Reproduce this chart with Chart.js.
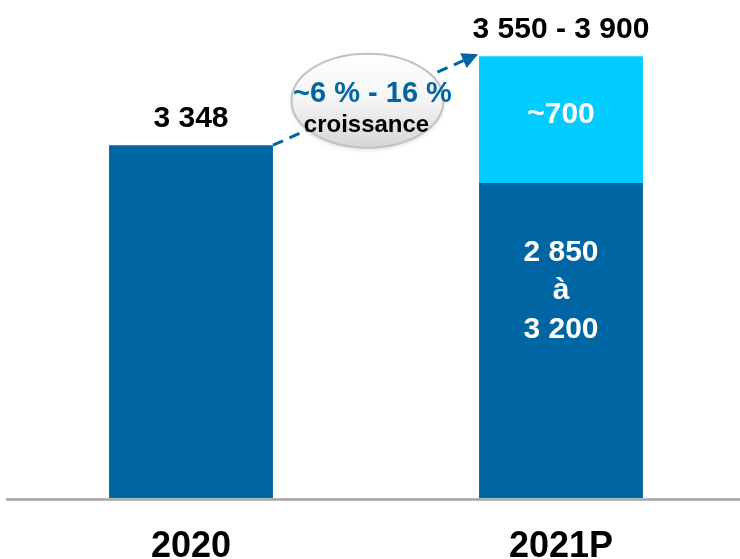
<!DOCTYPE html>
<html lang="fr">
<head>
<meta charset="UTF-8">
<meta name="viewport" content="width=device-width, initial-scale=1.0">
<title>Croissance 2020 - 2021P</title>
<script src="https://cdn.jsdelivr.net/npm/chart.js"></script>
<style>
  html, body { margin: 0; padding: 0; background: #fff; }
  #wrap { width: 740px; height: 559px; }
</style>
</head>
<body>
<div id="wrap"><canvas id="chart"></canvas></div>
<script>
// données
const categories = ['2020', '2021P'];
const baseValues = [3348, 3140];
const upperValues = [null, 700];
const totalLabels = ['3 348', '3 550 - 3 900'];
const upperLabels = ['', '~700'];
const baseLabels = [[], ['2 850', 'à', '3 200']];
const growthLabel = ['~6 % - 16 %', 'croissance'];

const DARK = '#0065a3';
const LIGHT = '#00ccff';
const FONT = '"Liberation Sans", Arial, sans-serif';

// étiquettes, ligne de base, flèche et bulle de croissance
const annotations = {
  id: 'annotations',
  afterDatasetsDraw(chart) {
    const ctx = chart.ctx;
    const area = chart.chartArea;
    const y = chart.scales.y;
    const base = chart.getDatasetMeta(0).data;
    const upper = chart.getDatasetMeta(1).data;
    const topOf = i => y.getPixelForValue(baseValues[i] + (upperValues[i] || 0));

    ctx.save();

    // ligne de base
    ctx.strokeStyle = '#a3a3a3';
    ctx.lineWidth = 2.5;
    ctx.beginPath();
    ctx.moveTo(6, area.bottom + 1.5);
    ctx.lineTo(chart.width, area.bottom + 1.5);
    ctx.stroke();

    // valeurs au-dessus des barres
    ctx.fillStyle = '#000';
    ctx.textAlign = 'center';
    ctx.textBaseline = 'alphabetic';
    ctx.font = 'bold 30px ' + FONT;
    base.forEach((bar, i) => {
      ctx.fillText(totalLabels[i], bar.x, topOf(i) - 18);
    });

    // textes dans les segments
    ctx.fillStyle = '#fff';
    upper.forEach((bar, i) => {
      if (!upperLabels[i]) return;
      const t = y.getPixelForValue(baseValues[i] + upperValues[i]);
      const b = y.getPixelForValue(baseValues[i]);
      ctx.fillText(upperLabels[i], bar.x, (t + b) / 2 + 3);
    });
    base.forEach((bar, i) => {
      const t = y.getPixelForValue(baseValues[i]);
      baseLabels[i].forEach((line, k) => {
        ctx.fillText(line, bar.x, t + 78 + k * 38.5);
      });
    });

    // flèche pointillée
    const x0 = base[0].x + base[0].width / 2;
    const y0 = topOf(0);
    const x1 = upper[1].x - upper[1].width / 2 - 1;
    const y1 = topOf(1) - 2;
    const ang = Math.atan2(y1 - y0, x1 - x0);
    const head = 16;
    ctx.strokeStyle = DARK;
    ctx.fillStyle = DARK;
    ctx.lineWidth = 3;
    ctx.setLineDash([11, 7]);
    ctx.beginPath();
    ctx.moveTo(x0, y0);
    ctx.lineTo(x1 - head * Math.cos(ang), y1 - head * Math.sin(ang));
    ctx.stroke();
    ctx.setLineDash([]);
    ctx.beginPath();
    ctx.moveTo(x1, y1);
    ctx.lineTo(x1 - head * Math.cos(ang) + 8 * Math.sin(ang), y1 - head * Math.sin(ang) - 8 * Math.cos(ang));
    ctx.lineTo(x1 - head * Math.cos(ang) - 8 * Math.sin(ang), y1 - head * Math.sin(ang) + 8 * Math.cos(ang));
    ctx.closePath();
    ctx.fill();

    // bulle
    const cx = (x0 + x1) / 2 - 8;
    const cy = (y0 + y1) / 2 + 1;
    const rx = 76, ry = 47;
    const grad = ctx.createLinearGradient(0, cy - ry, 0, cy + ry);
    grad.addColorStop(0, '#ffffff');
    grad.addColorStop(0.5, '#f4f4f4');
    grad.addColorStop(1, '#d6d6d6');
    ctx.shadowColor = 'rgba(0,0,0,0.15)';
    ctx.shadowBlur = 4;
    ctx.shadowOffsetY = 2;
    ctx.beginPath();
    ctx.ellipse(cx, cy, rx, ry, 0, 0, Math.PI * 2);
    ctx.fillStyle = grad;
    ctx.fill();
    ctx.shadowColor = 'transparent';
    ctx.strokeStyle = '#c2c2c2';
    ctx.lineWidth = 2;
    ctx.stroke();

    ctx.fillStyle = DARK;
    ctx.font = 'bold 29px ' + FONT;
    ctx.fillText(growthLabel[0], cx + 5, cy + 1.5);
    ctx.fillStyle = '#000';
    ctx.font = 'bold 24px ' + FONT;
    ctx.fillText(growthLabel[1], cx - 1, cy + 31.5);

    ctx.restore();
  }
};

// les barres débordent à gauche/droite de la zone, mais pas sous l'axe
const clipBars = { left: false, right: false, top: false, bottom: 0 };

new Chart(document.getElementById('chart'), {
  type: 'bar',
  data: {
    labels: categories,
    datasets: [
      { data: baseValues, backgroundColor: DARK, clip: clipBars },
      { data: upperValues, backgroundColor: LIGHT, clip: clipBars }
    ]
  },
  options: {
    responsive: true,
    maintainAspectRatio: false,
    animation: false,
    barPercentage: 0.443,
    categoryPercentage: 1,
    layout: { padding: { left: 191, right: 179, top: 0, bottom: 0 } },
    plugins: { legend: { display: false }, tooltip: { enabled: false } },
    scales: {
      x: {
        stacked: true,
        offset: false,
        grid: { display: false, drawTicks: false },
        border: { display: false },
        ticks: {
          color: '#000',
          padding: 27,
          autoSkip: false,
          maxRotation: 0,
          font: { family: FONT, size: 36, weight: 'bold' }
        },
        afterFit(scale) { scale.height = 61; }
      },
      y: {
        stacked: true,
        display: false,
        min: 1400,
        max: 4150
      }
    }
  },
  plugins: [annotations]
});
</script>
</body>
</html>
